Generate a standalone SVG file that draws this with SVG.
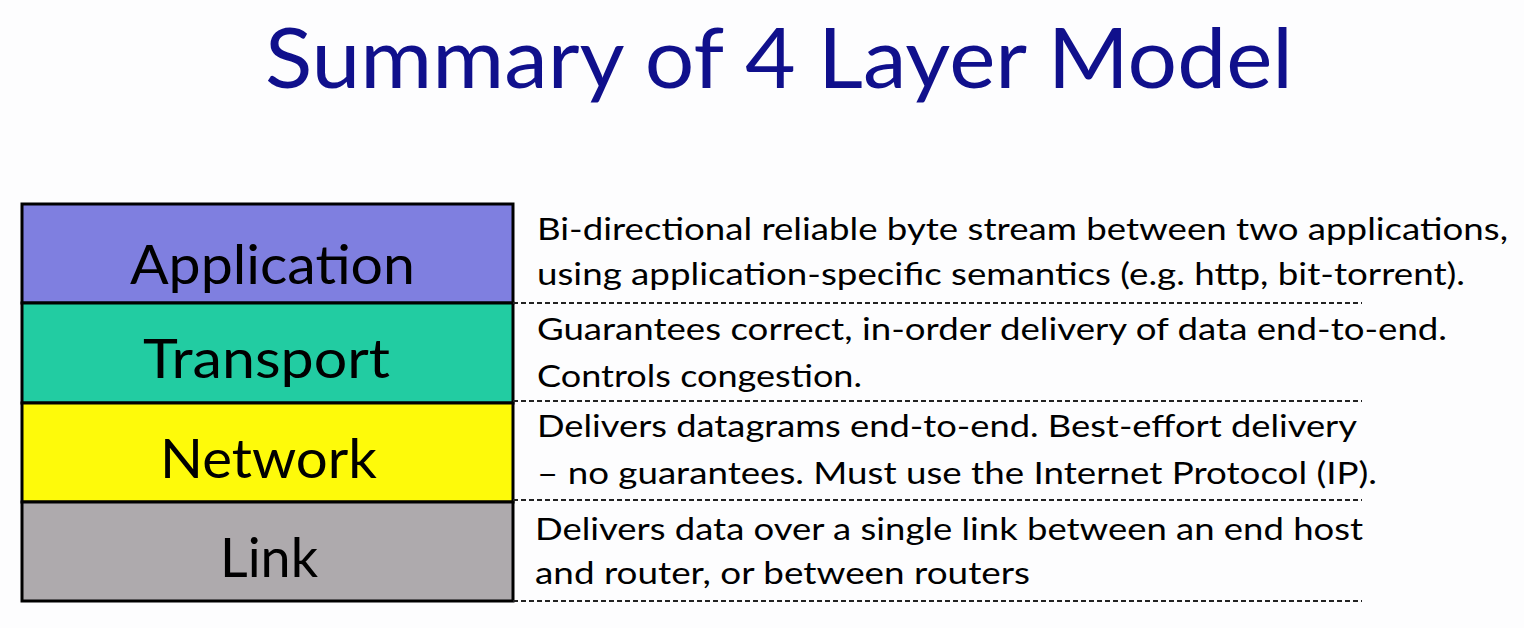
<svg xmlns="http://www.w3.org/2000/svg" width="1524" height="628" viewBox="0 0 1524 628">
<style>
.title{font-family:Lato,"Open Sans",sans-serif;font-size:84px;fill:#10108c}
.layer{font-family:Lato,"Open Sans",sans-serif;font-size:54px;fill:#000}
.desc{font-family:Lato,"Open Sans",sans-serif;font-size:31px;fill:#000}
.box{stroke:#000;stroke-width:3}
.dash{stroke:#222;stroke-width:2;stroke-dasharray:5 3;fill:none}
</style>
<rect width="1524" height="628" fill="#fdfdfe"/>
<text class="title" x="265" y="88" textLength="1028" lengthAdjust="spacingAndGlyphs">Summary of 4 Layer Model</text>
<g id="application">
<rect class="box" x="22" y="204" width="491" height="99" fill="#7f7fe0"/>
<text class="layer" x="130" y="284" textLength="285" lengthAdjust="spacingAndGlyphs">Application</text>
<text class="desc" x="537" y="240" textLength="971" lengthAdjust="spacingAndGlyphs">Bi-directional reliable byte stream between two applications,</text>
<text class="desc" x="537" y="285" textLength="928" lengthAdjust="spacingAndGlyphs">using application-specific semantics (e.g. http, bit-torrent).</text>
</g>
<g id="transport">
<rect class="box" x="22" y="303" width="491" height="100" fill="#22cca2"/>
<text class="layer" x="143" y="378" textLength="247" lengthAdjust="spacingAndGlyphs">Transport</text>
<text class="desc" x="537" y="340" textLength="910" lengthAdjust="spacingAndGlyphs">Guarantees correct, in-order delivery of data end-to-end.</text>
<text class="desc" x="537" y="387" textLength="325" lengthAdjust="spacingAndGlyphs">Controls congestion.</text>
</g>
<g id="network">
<rect class="box" x="22" y="403" width="491" height="99" fill="#fefa0a"/>
<text class="layer" x="160" y="478" textLength="217" lengthAdjust="spacingAndGlyphs">Network</text>
<text class="desc" x="537" y="437" textLength="820" lengthAdjust="spacingAndGlyphs">Delivers datagrams end-to-end. Best-effort delivery</text>
<text class="desc" x="537" y="484" textLength="840" lengthAdjust="spacingAndGlyphs">– no guarantees. Must use the Internet Protocol (IP).</text>
</g>
<g id="link">
<rect class="box" x="22" y="502" width="491" height="99" fill="#aeaaad"/>
<text class="layer" x="220" y="577" textLength="98" lengthAdjust="spacingAndGlyphs">Link</text>
<text class="desc" x="535" y="540" textLength="828" lengthAdjust="spacingAndGlyphs">Delivers data over a single link between an end host</text>
<text class="desc" x="535" y="584" textLength="495" lengthAdjust="spacingAndGlyphs">and router, or between routers</text>
</g>
<g id="connectors">
<line class="dash" x1="513" y1="303" x2="1362" y2="303"/>
<line class="dash" x1="513" y1="401" x2="1362" y2="401"/>
<line class="dash" x1="513" y1="500" x2="1362" y2="500"/>
<line class="dash" x1="513" y1="601" x2="1362" y2="601"/>
</g>
</svg>
